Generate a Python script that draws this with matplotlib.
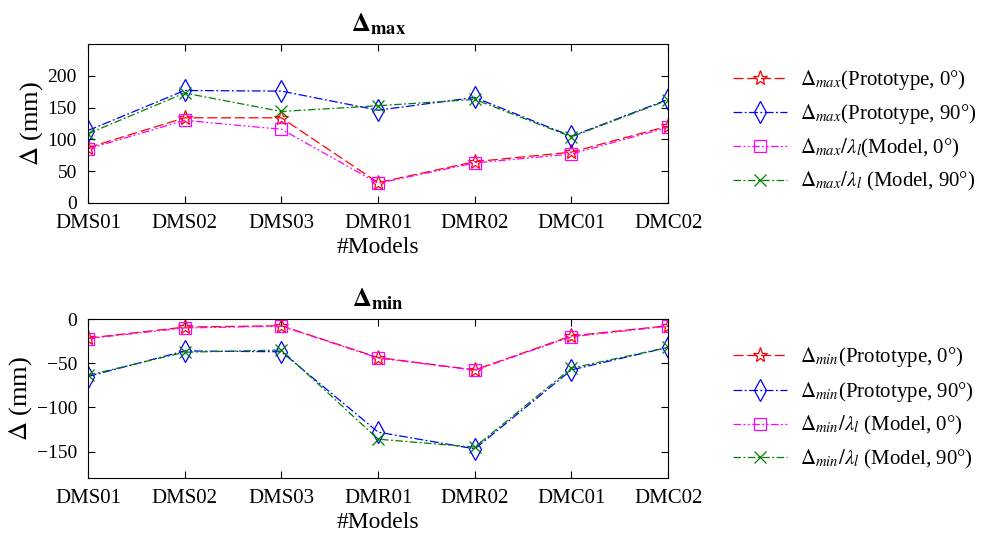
import numpy as np
import matplotlib
matplotlib.use('Agg')
import matplotlib.pyplot as plt

plt.rcParams['font.family'] = ['Liberation Serif', 'DejaVu Serif']
plt.rcParams['mathtext.fontset'] = 'stix'

models = ['DMS01', 'DMS02', 'DMS03', 'DMR01', 'DMR02', 'DMC01', 'DMC02']

# maximum displacement (mm)
max_proto_0 = [87, 134, 134, 32, 65, 80, 121]
max_proto_90 = [114, 177, 176, 146, 166, 105, 163]
max_model_0 = [85, 130, 116, 31, 63, 77, 119]
max_model_90 = [109, 173, 144, 153, 163, 104, 162]

# minimum displacement (mm)
min_proto_0 = [-21.5, -9, -7.5, -43.5, -57.5, -19, -7.5]
min_proto_90 = [-65, -36, -37, -128, -147, -57.5, -32]
min_model_0 = [-22, -10, -8, -44, -58, -20, -8]
min_model_90 = [-63.5, -37.5, -35, -136, -145, -55.5, -32]

x = np.arange(len(models))

styles = [
    dict(color='red', linestyle=(0, (8, 3)), marker='*', markersize=11),
    dict(color='blue', linestyle=(0, (7, 2, 1.5, 2)), marker='d', markersize=11),
    dict(color='magenta', linestyle=(0, (6, 2, 1.5, 2, 1.5, 2)), marker='s', markersize=9),
    dict(color='green', linestyle=(0, (6, 2, 1.5, 2)), marker='x', markersize=8),
]


def draw(ax, series, labels, title, ylim, yticks, leg_y):
    for s, lab, st in zip(series, labels, styles):
        ax.plot(x, s, label=lab, linewidth=0.9, markerfacecolor='none',
                markeredgewidth=0.9, **st)
    ax.set_xlim(0, len(models) - 1)
    ax.set_ylim(*ylim)
    ax.set_yticks(yticks)
    ax.set_xticks(x)
    ax.set_xticklabels(models)
    ax.tick_params(direction='in', top=True, right=True, labelsize=15, pad=8,
                   length=5)
    ax.tick_params(axis='y', labelsize=14)
    ax.set_xlabel('#Models', fontsize=17, labelpad=3)
    ax.set_ylabel(r'$\Delta$ (mm)', fontsize=19, labelpad=2)
    ax.set_title(title, fontsize=19, fontweight='bold', pad=9)
    ax.legend(loc='center left', bbox_to_anchor=(1.08, leg_y), frameon=False,
              fontsize=15, handlelength=2.6, labelspacing=0.5, handletextpad=0.6)


fig = plt.figure(figsize=(9.9, 5.35), dpi=100)
ax1 = fig.add_axes([0.0889, 0.6206, 0.586, 0.297])
ax2 = fig.add_axes([0.0889, 0.1065, 0.586, 0.297])

draw(ax1, [max_proto_0, max_proto_90, max_model_0, max_model_90],
     [r'$\Delta_{max}$(Prototype, 0°)', r'$\Delta_{max}$(Prototype, 90°)',
      r'$\Delta_{max}/\lambda_l$(Model, 0°)', r'$\Delta_{max}/\lambda_l$ (Model, 90°)'],
     r'$\mathbf{\Delta_{max}}$', (0, 250), [0, 50, 100, 150, 200], 0.455)
draw(ax2, [min_proto_0, min_proto_90, min_model_0, min_model_90],
     [r'$\Delta_{min}$(Prototype, 0°)', r'$\Delta_{min}$(Prototype, 90°)',
      r'$\Delta_{min}/\lambda_l$ (Model, 0°)', r'$\Delta_{min}/\lambda_l$ (Model, 90°)'],
     r'$\mathbf{\Delta_{min}}$', (-180, 0), [-150, -100, -50, 0], 0.44)

fig.savefig('out.png', dpi=100)
